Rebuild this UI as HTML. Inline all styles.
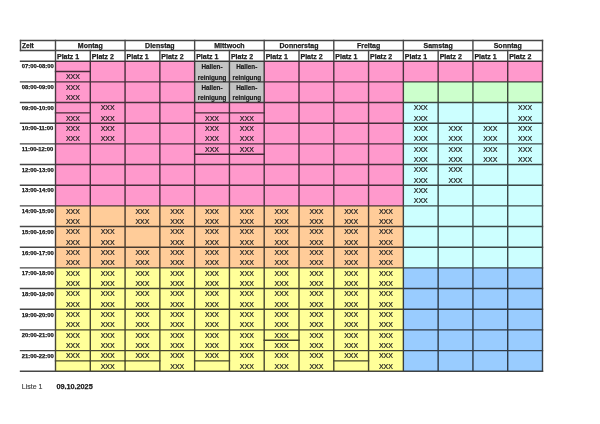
<!DOCTYPE html>
<html><head><meta charset="utf-8"><style>
html,body{margin:0;padding:0;background:#fff;width:600px;height:424px;overflow:hidden}
svg{display:block;position:absolute;left:0;top:0;will-change:transform}
text{font-family:"Liberation Sans",sans-serif;fill:#1a1a1a}
.b7{font-size:7px;font-weight:bold;stroke:#1a1a1a;stroke-width:0.25px}
.b6{font-size:5.85px;font-weight:bold;stroke:#1a1a1a;stroke-width:0.25px}
.b63{font-size:6.3px;font-weight:bold;stroke:#1a1a1a;stroke-width:0.18px}
.r7{font-size:7px;fill:#222;stroke:#222;stroke-width:0.22px}
.ft{font-size:7.4px;fill:#444;stroke:#444;stroke-width:0.2px}
.fb{font-size:7.25px;font-weight:bold;stroke:#1a1a1a;stroke-width:0.25px}
</style></head><body>
<svg width="600" height="424" viewBox="0 0 600 424">
<g><rect x="55.50" y="61.20" width="34.79" height="20.67" fill="#ff99cc"/><rect x="55.50" y="81.87" width="34.79" height="20.67" fill="#ff99cc"/><rect x="55.50" y="102.54" width="34.79" height="20.67" fill="#ff99cc"/><rect x="55.50" y="123.21" width="34.79" height="20.67" fill="#ff99cc"/><rect x="55.50" y="143.88" width="34.79" height="20.67" fill="#ff99cc"/><rect x="55.50" y="164.55" width="34.79" height="20.67" fill="#ff99cc"/><rect x="55.50" y="185.22" width="34.79" height="20.67" fill="#ff99cc"/><rect x="55.50" y="205.89" width="34.79" height="20.67" fill="#ffcc99"/><rect x="55.50" y="226.56" width="34.79" height="20.67" fill="#ffcc99"/><rect x="55.50" y="247.23" width="34.79" height="20.67" fill="#ffcc99"/><rect x="55.50" y="267.90" width="34.79" height="20.67" fill="#ffff99"/><rect x="55.50" y="288.57" width="34.79" height="20.67" fill="#ffff99"/><rect x="55.50" y="309.24" width="34.79" height="20.67" fill="#ffff99"/><rect x="55.50" y="329.91" width="34.79" height="20.67" fill="#ffff99"/><rect x="55.50" y="350.58" width="34.79" height="20.67" fill="#ffff99"/><rect x="90.29" y="61.20" width="34.79" height="20.67" fill="#ff99cc"/><rect x="90.29" y="81.87" width="34.79" height="20.67" fill="#ff99cc"/><rect x="90.29" y="102.54" width="34.79" height="20.67" fill="#ff99cc"/><rect x="90.29" y="123.21" width="34.79" height="20.67" fill="#ff99cc"/><rect x="90.29" y="143.88" width="34.79" height="20.67" fill="#ff99cc"/><rect x="90.29" y="164.55" width="34.79" height="20.67" fill="#ff99cc"/><rect x="90.29" y="185.22" width="34.79" height="20.67" fill="#ff99cc"/><rect x="90.29" y="205.89" width="34.79" height="20.67" fill="#ffcc99"/><rect x="90.29" y="226.56" width="34.79" height="20.67" fill="#ffcc99"/><rect x="90.29" y="247.23" width="34.79" height="20.67" fill="#ffcc99"/><rect x="90.29" y="267.90" width="34.79" height="20.67" fill="#ffff99"/><rect x="90.29" y="288.57" width="34.79" height="20.67" fill="#ffff99"/><rect x="90.29" y="309.24" width="34.79" height="20.67" fill="#ffff99"/><rect x="90.29" y="329.91" width="34.79" height="20.67" fill="#ffff99"/><rect x="90.29" y="350.58" width="34.79" height="20.67" fill="#ffff99"/><rect x="125.07" y="61.20" width="34.79" height="20.67" fill="#ff99cc"/><rect x="125.07" y="81.87" width="34.79" height="20.67" fill="#ff99cc"/><rect x="125.07" y="102.54" width="34.79" height="20.67" fill="#ff99cc"/><rect x="125.07" y="123.21" width="34.79" height="20.67" fill="#ff99cc"/><rect x="125.07" y="143.88" width="34.79" height="20.67" fill="#ff99cc"/><rect x="125.07" y="164.55" width="34.79" height="20.67" fill="#ff99cc"/><rect x="125.07" y="185.22" width="34.79" height="20.67" fill="#ff99cc"/><rect x="125.07" y="205.89" width="34.79" height="20.67" fill="#ffcc99"/><rect x="125.07" y="226.56" width="34.79" height="20.67" fill="#ffcc99"/><rect x="125.07" y="247.23" width="34.79" height="20.67" fill="#ffcc99"/><rect x="125.07" y="267.90" width="34.79" height="20.67" fill="#ffff99"/><rect x="125.07" y="288.57" width="34.79" height="20.67" fill="#ffff99"/><rect x="125.07" y="309.24" width="34.79" height="20.67" fill="#ffff99"/><rect x="125.07" y="329.91" width="34.79" height="20.67" fill="#ffff99"/><rect x="125.07" y="350.58" width="34.79" height="20.67" fill="#ffff99"/><rect x="159.86" y="61.20" width="34.79" height="20.67" fill="#ff99cc"/><rect x="159.86" y="81.87" width="34.79" height="20.67" fill="#ff99cc"/><rect x="159.86" y="102.54" width="34.79" height="20.67" fill="#ff99cc"/><rect x="159.86" y="123.21" width="34.79" height="20.67" fill="#ff99cc"/><rect x="159.86" y="143.88" width="34.79" height="20.67" fill="#ff99cc"/><rect x="159.86" y="164.55" width="34.79" height="20.67" fill="#ff99cc"/><rect x="159.86" y="185.22" width="34.79" height="20.67" fill="#ff99cc"/><rect x="159.86" y="205.89" width="34.79" height="20.67" fill="#ffcc99"/><rect x="159.86" y="226.56" width="34.79" height="20.67" fill="#ffcc99"/><rect x="159.86" y="247.23" width="34.79" height="20.67" fill="#ffcc99"/><rect x="159.86" y="267.90" width="34.79" height="20.67" fill="#ffff99"/><rect x="159.86" y="288.57" width="34.79" height="20.67" fill="#ffff99"/><rect x="159.86" y="309.24" width="34.79" height="20.67" fill="#ffff99"/><rect x="159.86" y="329.91" width="34.79" height="20.67" fill="#ffff99"/><rect x="159.86" y="350.58" width="34.79" height="20.67" fill="#ffff99"/><rect x="194.64" y="61.20" width="34.79" height="20.67" fill="#c4c4c4"/><rect x="194.64" y="81.87" width="34.79" height="20.67" fill="#c4c4c4"/><rect x="194.64" y="102.54" width="34.79" height="20.67" fill="#ff99cc"/><rect x="194.64" y="123.21" width="34.79" height="20.67" fill="#ff99cc"/><rect x="194.64" y="143.88" width="34.79" height="20.67" fill="#ff99cc"/><rect x="194.64" y="164.55" width="34.79" height="20.67" fill="#ff99cc"/><rect x="194.64" y="185.22" width="34.79" height="20.67" fill="#ff99cc"/><rect x="194.64" y="205.89" width="34.79" height="20.67" fill="#ffcc99"/><rect x="194.64" y="226.56" width="34.79" height="20.67" fill="#ffcc99"/><rect x="194.64" y="247.23" width="34.79" height="20.67" fill="#ffcc99"/><rect x="194.64" y="267.90" width="34.79" height="20.67" fill="#ffff99"/><rect x="194.64" y="288.57" width="34.79" height="20.67" fill="#ffff99"/><rect x="194.64" y="309.24" width="34.79" height="20.67" fill="#ffff99"/><rect x="194.64" y="329.91" width="34.79" height="20.67" fill="#ffff99"/><rect x="194.64" y="350.58" width="34.79" height="20.67" fill="#ffff99"/><rect x="229.43" y="61.20" width="34.79" height="20.67" fill="#c4c4c4"/><rect x="229.43" y="81.87" width="34.79" height="20.67" fill="#c4c4c4"/><rect x="229.43" y="102.54" width="34.79" height="20.67" fill="#ff99cc"/><rect x="229.43" y="123.21" width="34.79" height="20.67" fill="#ff99cc"/><rect x="229.43" y="143.88" width="34.79" height="20.67" fill="#ff99cc"/><rect x="229.43" y="164.55" width="34.79" height="20.67" fill="#ff99cc"/><rect x="229.43" y="185.22" width="34.79" height="20.67" fill="#ff99cc"/><rect x="229.43" y="205.89" width="34.79" height="20.67" fill="#ffcc99"/><rect x="229.43" y="226.56" width="34.79" height="20.67" fill="#ffcc99"/><rect x="229.43" y="247.23" width="34.79" height="20.67" fill="#ffcc99"/><rect x="229.43" y="267.90" width="34.79" height="20.67" fill="#ffff99"/><rect x="229.43" y="288.57" width="34.79" height="20.67" fill="#ffff99"/><rect x="229.43" y="309.24" width="34.79" height="20.67" fill="#ffff99"/><rect x="229.43" y="329.91" width="34.79" height="20.67" fill="#ffff99"/><rect x="229.43" y="350.58" width="34.79" height="20.67" fill="#ffff99"/><rect x="264.21" y="61.20" width="34.79" height="20.67" fill="#ff99cc"/><rect x="264.21" y="81.87" width="34.79" height="20.67" fill="#ff99cc"/><rect x="264.21" y="102.54" width="34.79" height="20.67" fill="#ff99cc"/><rect x="264.21" y="123.21" width="34.79" height="20.67" fill="#ff99cc"/><rect x="264.21" y="143.88" width="34.79" height="20.67" fill="#ff99cc"/><rect x="264.21" y="164.55" width="34.79" height="20.67" fill="#ff99cc"/><rect x="264.21" y="185.22" width="34.79" height="20.67" fill="#ff99cc"/><rect x="264.21" y="205.89" width="34.79" height="20.67" fill="#ffcc99"/><rect x="264.21" y="226.56" width="34.79" height="20.67" fill="#ffcc99"/><rect x="264.21" y="247.23" width="34.79" height="20.67" fill="#ffcc99"/><rect x="264.21" y="267.90" width="34.79" height="20.67" fill="#ffff99"/><rect x="264.21" y="288.57" width="34.79" height="20.67" fill="#ffff99"/><rect x="264.21" y="309.24" width="34.79" height="20.67" fill="#ffff99"/><rect x="264.21" y="329.91" width="34.79" height="20.67" fill="#ffff99"/><rect x="264.21" y="350.58" width="34.79" height="20.67" fill="#ffff99"/><rect x="299.00" y="61.20" width="34.79" height="20.67" fill="#ff99cc"/><rect x="299.00" y="81.87" width="34.79" height="20.67" fill="#ff99cc"/><rect x="299.00" y="102.54" width="34.79" height="20.67" fill="#ff99cc"/><rect x="299.00" y="123.21" width="34.79" height="20.67" fill="#ff99cc"/><rect x="299.00" y="143.88" width="34.79" height="20.67" fill="#ff99cc"/><rect x="299.00" y="164.55" width="34.79" height="20.67" fill="#ff99cc"/><rect x="299.00" y="185.22" width="34.79" height="20.67" fill="#ff99cc"/><rect x="299.00" y="205.89" width="34.79" height="20.67" fill="#ffcc99"/><rect x="299.00" y="226.56" width="34.79" height="20.67" fill="#ffcc99"/><rect x="299.00" y="247.23" width="34.79" height="20.67" fill="#ffcc99"/><rect x="299.00" y="267.90" width="34.79" height="20.67" fill="#ffff99"/><rect x="299.00" y="288.57" width="34.79" height="20.67" fill="#ffff99"/><rect x="299.00" y="309.24" width="34.79" height="20.67" fill="#ffff99"/><rect x="299.00" y="329.91" width="34.79" height="20.67" fill="#ffff99"/><rect x="299.00" y="350.58" width="34.79" height="20.67" fill="#ffff99"/><rect x="333.79" y="61.20" width="34.79" height="20.67" fill="#ff99cc"/><rect x="333.79" y="81.87" width="34.79" height="20.67" fill="#ff99cc"/><rect x="333.79" y="102.54" width="34.79" height="20.67" fill="#ff99cc"/><rect x="333.79" y="123.21" width="34.79" height="20.67" fill="#ff99cc"/><rect x="333.79" y="143.88" width="34.79" height="20.67" fill="#ff99cc"/><rect x="333.79" y="164.55" width="34.79" height="20.67" fill="#ff99cc"/><rect x="333.79" y="185.22" width="34.79" height="20.67" fill="#ff99cc"/><rect x="333.79" y="205.89" width="34.79" height="20.67" fill="#ffcc99"/><rect x="333.79" y="226.56" width="34.79" height="20.67" fill="#ffcc99"/><rect x="333.79" y="247.23" width="34.79" height="20.67" fill="#ffcc99"/><rect x="333.79" y="267.90" width="34.79" height="20.67" fill="#ffff99"/><rect x="333.79" y="288.57" width="34.79" height="20.67" fill="#ffff99"/><rect x="333.79" y="309.24" width="34.79" height="20.67" fill="#ffff99"/><rect x="333.79" y="329.91" width="34.79" height="20.67" fill="#ffff99"/><rect x="333.79" y="350.58" width="34.79" height="20.67" fill="#ffff99"/><rect x="368.57" y="61.20" width="34.79" height="20.67" fill="#ff99cc"/><rect x="368.57" y="81.87" width="34.79" height="20.67" fill="#ff99cc"/><rect x="368.57" y="102.54" width="34.79" height="20.67" fill="#ff99cc"/><rect x="368.57" y="123.21" width="34.79" height="20.67" fill="#ff99cc"/><rect x="368.57" y="143.88" width="34.79" height="20.67" fill="#ff99cc"/><rect x="368.57" y="164.55" width="34.79" height="20.67" fill="#ff99cc"/><rect x="368.57" y="185.22" width="34.79" height="20.67" fill="#ff99cc"/><rect x="368.57" y="205.89" width="34.79" height="20.67" fill="#ffcc99"/><rect x="368.57" y="226.56" width="34.79" height="20.67" fill="#ffcc99"/><rect x="368.57" y="247.23" width="34.79" height="20.67" fill="#ffcc99"/><rect x="368.57" y="267.90" width="34.79" height="20.67" fill="#ffff99"/><rect x="368.57" y="288.57" width="34.79" height="20.67" fill="#ffff99"/><rect x="368.57" y="309.24" width="34.79" height="20.67" fill="#ffff99"/><rect x="368.57" y="329.91" width="34.79" height="20.67" fill="#ffff99"/><rect x="368.57" y="350.58" width="34.79" height="20.67" fill="#ffff99"/><rect x="403.36" y="61.20" width="34.79" height="20.67" fill="#ff99cc"/><rect x="403.36" y="81.87" width="34.79" height="20.67" fill="#ccffcc"/><rect x="403.36" y="102.54" width="34.79" height="20.67" fill="#ccffff"/><rect x="403.36" y="123.21" width="34.79" height="20.67" fill="#ccffff"/><rect x="403.36" y="143.88" width="34.79" height="20.67" fill="#ccffff"/><rect x="403.36" y="164.55" width="34.79" height="20.67" fill="#ccffff"/><rect x="403.36" y="185.22" width="34.79" height="20.67" fill="#ccffff"/><rect x="403.36" y="205.89" width="34.79" height="20.67" fill="#ccffff"/><rect x="403.36" y="226.56" width="34.79" height="20.67" fill="#ccffff"/><rect x="403.36" y="247.23" width="34.79" height="20.67" fill="#ccffff"/><rect x="403.36" y="267.90" width="34.79" height="20.67" fill="#99ccff"/><rect x="403.36" y="288.57" width="34.79" height="20.67" fill="#99ccff"/><rect x="403.36" y="309.24" width="34.79" height="20.67" fill="#99ccff"/><rect x="403.36" y="329.91" width="34.79" height="20.67" fill="#99ccff"/><rect x="403.36" y="350.58" width="34.79" height="20.67" fill="#99ccff"/><rect x="438.14" y="61.20" width="34.79" height="20.67" fill="#ff99cc"/><rect x="438.14" y="81.87" width="34.79" height="20.67" fill="#ccffcc"/><rect x="438.14" y="102.54" width="34.79" height="20.67" fill="#ccffff"/><rect x="438.14" y="123.21" width="34.79" height="20.67" fill="#ccffff"/><rect x="438.14" y="143.88" width="34.79" height="20.67" fill="#ccffff"/><rect x="438.14" y="164.55" width="34.79" height="20.67" fill="#ccffff"/><rect x="438.14" y="185.22" width="34.79" height="20.67" fill="#ccffff"/><rect x="438.14" y="205.89" width="34.79" height="20.67" fill="#ccffff"/><rect x="438.14" y="226.56" width="34.79" height="20.67" fill="#ccffff"/><rect x="438.14" y="247.23" width="34.79" height="20.67" fill="#ccffff"/><rect x="438.14" y="267.90" width="34.79" height="20.67" fill="#99ccff"/><rect x="438.14" y="288.57" width="34.79" height="20.67" fill="#99ccff"/><rect x="438.14" y="309.24" width="34.79" height="20.67" fill="#99ccff"/><rect x="438.14" y="329.91" width="34.79" height="20.67" fill="#99ccff"/><rect x="438.14" y="350.58" width="34.79" height="20.67" fill="#99ccff"/><rect x="472.93" y="61.20" width="34.79" height="20.67" fill="#ff99cc"/><rect x="472.93" y="81.87" width="34.79" height="20.67" fill="#ccffcc"/><rect x="472.93" y="102.54" width="34.79" height="20.67" fill="#ccffff"/><rect x="472.93" y="123.21" width="34.79" height="20.67" fill="#ccffff"/><rect x="472.93" y="143.88" width="34.79" height="20.67" fill="#ccffff"/><rect x="472.93" y="164.55" width="34.79" height="20.67" fill="#ccffff"/><rect x="472.93" y="185.22" width="34.79" height="20.67" fill="#ccffff"/><rect x="472.93" y="205.89" width="34.79" height="20.67" fill="#ccffff"/><rect x="472.93" y="226.56" width="34.79" height="20.67" fill="#ccffff"/><rect x="472.93" y="247.23" width="34.79" height="20.67" fill="#ccffff"/><rect x="472.93" y="267.90" width="34.79" height="20.67" fill="#99ccff"/><rect x="472.93" y="288.57" width="34.79" height="20.67" fill="#99ccff"/><rect x="472.93" y="309.24" width="34.79" height="20.67" fill="#99ccff"/><rect x="472.93" y="329.91" width="34.79" height="20.67" fill="#99ccff"/><rect x="472.93" y="350.58" width="34.79" height="20.67" fill="#99ccff"/><rect x="507.71" y="61.20" width="34.79" height="20.67" fill="#ff99cc"/><rect x="507.71" y="81.87" width="34.79" height="20.67" fill="#ccffcc"/><rect x="507.71" y="102.54" width="34.79" height="20.67" fill="#ccffff"/><rect x="507.71" y="123.21" width="34.79" height="20.67" fill="#ccffff"/><rect x="507.71" y="143.88" width="34.79" height="20.67" fill="#ccffff"/><rect x="507.71" y="164.55" width="34.79" height="20.67" fill="#ccffff"/><rect x="507.71" y="185.22" width="34.79" height="20.67" fill="#ccffff"/><rect x="507.71" y="205.89" width="34.79" height="20.67" fill="#ccffff"/><rect x="507.71" y="226.56" width="34.79" height="20.67" fill="#ccffff"/><rect x="507.71" y="247.23" width="34.79" height="20.67" fill="#ccffff"/><rect x="507.71" y="267.90" width="34.79" height="20.67" fill="#99ccff"/><rect x="507.71" y="288.57" width="34.79" height="20.67" fill="#99ccff"/><rect x="507.71" y="309.24" width="34.79" height="20.67" fill="#99ccff"/><rect x="507.71" y="329.91" width="34.79" height="20.67" fill="#99ccff"/><rect x="507.71" y="350.58" width="34.79" height="20.67" fill="#99ccff"/></g>
<g stroke="#000" opacity="0.72" stroke-linecap="square"><line x1="20.50" y1="40.50" x2="542.50" y2="40.50" stroke-width="1.4"/><line x1="20.50" y1="50.50" x2="542.50" y2="50.50" stroke-width="1.4"/><line x1="20.50" y1="40.50" x2="20.50" y2="50.50" stroke-width="1.4"/><line x1="55.50" y1="40.50" x2="55.50" y2="371.25" stroke-width="1.4"/><line x1="90.29" y1="50.50" x2="90.29" y2="371.25" stroke-width="1.4"/><line x1="125.07" y1="40.50" x2="125.07" y2="371.25" stroke-width="1.4"/><line x1="159.86" y1="50.50" x2="159.86" y2="371.25" stroke-width="1.4"/><line x1="194.64" y1="40.50" x2="194.64" y2="371.25" stroke-width="1.4"/><line x1="229.43" y1="50.50" x2="229.43" y2="371.25" stroke-width="1.4"/><line x1="264.21" y1="40.50" x2="264.21" y2="371.25" stroke-width="1.4"/><line x1="299.00" y1="50.50" x2="299.00" y2="371.25" stroke-width="1.4"/><line x1="333.79" y1="40.50" x2="333.79" y2="371.25" stroke-width="1.4"/><line x1="368.57" y1="50.50" x2="368.57" y2="371.25" stroke-width="1.4"/><line x1="403.36" y1="40.50" x2="403.36" y2="371.25" stroke-width="1.4"/><line x1="438.14" y1="50.50" x2="438.14" y2="371.25" stroke-width="1.4"/><line x1="472.93" y1="40.50" x2="472.93" y2="371.25" stroke-width="1.4"/><line x1="507.71" y1="50.50" x2="507.71" y2="371.25" stroke-width="1.4"/><line x1="542.50" y1="40.50" x2="542.50" y2="371.25" stroke-width="1.4"/><line x1="20.50" y1="61.20" x2="542.50" y2="61.20" stroke-width="1.4"/><line x1="20.50" y1="81.87" x2="542.50" y2="81.87" stroke-width="1.4"/><line x1="20.50" y1="102.54" x2="542.50" y2="102.54" stroke-width="1.4"/><line x1="20.50" y1="123.21" x2="542.50" y2="123.21" stroke-width="1.4"/><line x1="20.50" y1="143.88" x2="542.50" y2="143.88" stroke-width="1.4"/><line x1="20.50" y1="164.55" x2="542.50" y2="164.55" stroke-width="1.4"/><line x1="20.50" y1="185.22" x2="542.50" y2="185.22" stroke-width="1.4"/><line x1="20.50" y1="205.89" x2="542.50" y2="205.89" stroke-width="1.4"/><line x1="20.50" y1="226.56" x2="542.50" y2="226.56" stroke-width="1.4"/><line x1="20.50" y1="247.23" x2="542.50" y2="247.23" stroke-width="1.4"/><line x1="20.50" y1="267.90" x2="542.50" y2="267.90" stroke-width="1.4"/><line x1="20.50" y1="288.57" x2="542.50" y2="288.57" stroke-width="1.4"/><line x1="20.50" y1="309.24" x2="542.50" y2="309.24" stroke-width="1.4"/><line x1="20.50" y1="329.91" x2="542.50" y2="329.91" stroke-width="1.4"/><line x1="20.50" y1="350.58" x2="542.50" y2="350.58" stroke-width="1.4"/><line x1="20.50" y1="371.25" x2="542.50" y2="371.25" stroke-width="1.4"/><line x1="55.50" y1="71.53" x2="90.29" y2="71.53" stroke-width="1.4"/><line x1="55.50" y1="112.88" x2="90.29" y2="112.88" stroke-width="1.4"/><line x1="55.50" y1="360.91" x2="90.29" y2="360.91" stroke-width="1.4"/><line x1="90.29" y1="360.91" x2="125.07" y2="360.91" stroke-width="1.4"/><line x1="125.07" y1="360.91" x2="159.86" y2="360.91" stroke-width="1.4"/><line x1="194.64" y1="112.88" x2="229.43" y2="112.88" stroke-width="1.4"/><line x1="194.64" y1="154.22" x2="229.43" y2="154.22" stroke-width="1.4"/><line x1="194.64" y1="360.91" x2="229.43" y2="360.91" stroke-width="1.4"/><line x1="229.43" y1="112.88" x2="264.21" y2="112.88" stroke-width="1.4"/><line x1="229.43" y1="154.22" x2="264.21" y2="154.22" stroke-width="1.4"/><line x1="264.21" y1="340.25" x2="299.00" y2="340.25" stroke-width="1.4"/><line x1="333.79" y1="360.91" x2="368.57" y2="360.91" stroke-width="1.4"/></g>
<g><text x="22.00" y="47.90" class="b7" text-anchor="start" style="font-size:6.6px">Zeit</text><text x="90.29" y="47.90" class="b7" text-anchor="middle">Montag</text><text x="57.00" y="58.80" class="b7" text-anchor="start">Platz 1</text><text x="91.79" y="58.80" class="b7" text-anchor="start">Platz 2</text><text x="159.86" y="47.90" class="b7" text-anchor="middle">Dienstag</text><text x="126.57" y="58.80" class="b7" text-anchor="start">Platz 1</text><text x="161.36" y="58.80" class="b7" text-anchor="start">Platz 2</text><text x="229.43" y="47.90" class="b7" text-anchor="middle">Mittwoch</text><text x="196.14" y="58.80" class="b7" text-anchor="start">Platz 1</text><text x="230.93" y="58.80" class="b7" text-anchor="start">Platz 2</text><text x="299.00" y="47.90" class="b7" text-anchor="middle">Donnerstag</text><text x="265.71" y="58.80" class="b7" text-anchor="start">Platz 1</text><text x="300.50" y="58.80" class="b7" text-anchor="start">Platz 2</text><text x="368.57" y="47.90" class="b7" text-anchor="middle">Freitag</text><text x="335.29" y="58.80" class="b7" text-anchor="start">Platz 1</text><text x="370.07" y="58.80" class="b7" text-anchor="start">Platz 2</text><text x="438.14" y="47.90" class="b7" text-anchor="middle">Samstag</text><text x="404.86" y="58.80" class="b7" text-anchor="start">Platz 1</text><text x="439.64" y="58.80" class="b7" text-anchor="start">Platz 2</text><text x="507.71" y="47.90" class="b7" text-anchor="middle">Sonntag</text><text x="474.43" y="58.80" class="b7" text-anchor="start">Platz 1</text><text x="509.21" y="58.80" class="b7" text-anchor="start">Platz 2</text><text x="21.80" y="68.47" class="b6" text-anchor="start">07:00-08:00</text><text x="21.80" y="89.14" class="b6" text-anchor="start">08:00-09:00</text><text x="21.80" y="109.81" class="b6" text-anchor="start">09:00-10:00</text><text x="21.80" y="130.48" class="b6" text-anchor="start">10:00-11:00</text><text x="21.80" y="151.15" class="b6" text-anchor="start">11:00-12:00</text><text x="21.80" y="171.82" class="b6" text-anchor="start">12:00-13:00</text><text x="21.80" y="192.49" class="b6" text-anchor="start">13:00-14:00</text><text x="21.80" y="213.16" class="b6" text-anchor="start">14:00-15:00</text><text x="21.80" y="233.83" class="b6" text-anchor="start">15:00-16:00</text><text x="21.80" y="254.50" class="b6" text-anchor="start">16:00-17:00</text><text x="21.80" y="275.17" class="b6" text-anchor="start">17:00-18:00</text><text x="21.80" y="295.84" class="b6" text-anchor="start">18:00-19:00</text><text x="21.80" y="316.51" class="b6" text-anchor="start">19:00-20:00</text><text x="21.80" y="337.18" class="b6" text-anchor="start">20:00-21:00</text><text x="21.80" y="357.85" class="b6" text-anchor="start">21:00-22:00</text><text x="72.89" y="79.20" class="r7" text-anchor="middle">XXX</text><text x="72.89" y="89.54" class="r7" text-anchor="middle">XXX</text><text x="72.89" y="99.87" class="r7" text-anchor="middle">XXX</text><text x="72.89" y="120.54" class="r7" text-anchor="middle">XXX</text><text x="72.89" y="130.88" class="r7" text-anchor="middle">XXX</text><text x="72.89" y="141.21" class="r7" text-anchor="middle">XXX</text><text x="72.89" y="213.56" class="r7" text-anchor="middle">XXX</text><text x="72.89" y="223.89" class="r7" text-anchor="middle">XXX</text><text x="72.89" y="234.23" class="r7" text-anchor="middle">XXX</text><text x="72.89" y="244.56" class="r7" text-anchor="middle">XXX</text><text x="72.89" y="254.90" class="r7" text-anchor="middle">XXX</text><text x="72.89" y="265.23" class="r7" text-anchor="middle">XXX</text><text x="72.89" y="275.57" class="r7" text-anchor="middle">XXX</text><text x="72.89" y="285.90" class="r7" text-anchor="middle">XXX</text><text x="72.89" y="296.24" class="r7" text-anchor="middle">XXX</text><text x="72.89" y="306.57" class="r7" text-anchor="middle">XXX</text><text x="72.89" y="316.91" class="r7" text-anchor="middle">XXX</text><text x="72.89" y="327.24" class="r7" text-anchor="middle">XXX</text><text x="72.89" y="337.58" class="r7" text-anchor="middle">XXX</text><text x="72.89" y="347.91" class="r7" text-anchor="middle">XXX</text><text x="72.89" y="358.25" class="r7" text-anchor="middle">XXX</text><text x="107.68" y="110.21" class="r7" text-anchor="middle">XXX</text><text x="107.68" y="120.54" class="r7" text-anchor="middle">XXX</text><text x="107.68" y="130.88" class="r7" text-anchor="middle">XXX</text><text x="107.68" y="141.21" class="r7" text-anchor="middle">XXX</text><text x="107.68" y="234.23" class="r7" text-anchor="middle">XXX</text><text x="107.68" y="244.56" class="r7" text-anchor="middle">XXX</text><text x="107.68" y="254.90" class="r7" text-anchor="middle">XXX</text><text x="107.68" y="265.23" class="r7" text-anchor="middle">XXX</text><text x="107.68" y="275.57" class="r7" text-anchor="middle">XXX</text><text x="107.68" y="285.90" class="r7" text-anchor="middle">XXX</text><text x="107.68" y="296.24" class="r7" text-anchor="middle">XXX</text><text x="107.68" y="306.57" class="r7" text-anchor="middle">XXX</text><text x="107.68" y="316.91" class="r7" text-anchor="middle">XXX</text><text x="107.68" y="327.24" class="r7" text-anchor="middle">XXX</text><text x="107.68" y="337.58" class="r7" text-anchor="middle">XXX</text><text x="107.68" y="347.91" class="r7" text-anchor="middle">XXX</text><text x="107.68" y="358.25" class="r7" text-anchor="middle">XXX</text><text x="107.68" y="368.58" class="r7" text-anchor="middle">XXX</text><text x="142.46" y="213.56" class="r7" text-anchor="middle">XXX</text><text x="142.46" y="223.89" class="r7" text-anchor="middle">XXX</text><text x="142.46" y="254.90" class="r7" text-anchor="middle">XXX</text><text x="142.46" y="265.23" class="r7" text-anchor="middle">XXX</text><text x="142.46" y="275.57" class="r7" text-anchor="middle">XXX</text><text x="142.46" y="285.90" class="r7" text-anchor="middle">XXX</text><text x="142.46" y="296.24" class="r7" text-anchor="middle">XXX</text><text x="142.46" y="306.57" class="r7" text-anchor="middle">XXX</text><text x="142.46" y="316.91" class="r7" text-anchor="middle">XXX</text><text x="142.46" y="327.24" class="r7" text-anchor="middle">XXX</text><text x="142.46" y="337.58" class="r7" text-anchor="middle">XXX</text><text x="142.46" y="347.91" class="r7" text-anchor="middle">XXX</text><text x="142.46" y="358.25" class="r7" text-anchor="middle">XXX</text><text x="177.25" y="213.56" class="r7" text-anchor="middle">XXX</text><text x="177.25" y="223.89" class="r7" text-anchor="middle">XXX</text><text x="177.25" y="234.23" class="r7" text-anchor="middle">XXX</text><text x="177.25" y="244.56" class="r7" text-anchor="middle">XXX</text><text x="177.25" y="254.90" class="r7" text-anchor="middle">XXX</text><text x="177.25" y="265.23" class="r7" text-anchor="middle">XXX</text><text x="177.25" y="275.57" class="r7" text-anchor="middle">XXX</text><text x="177.25" y="285.90" class="r7" text-anchor="middle">XXX</text><text x="177.25" y="296.24" class="r7" text-anchor="middle">XXX</text><text x="177.25" y="306.57" class="r7" text-anchor="middle">XXX</text><text x="177.25" y="316.91" class="r7" text-anchor="middle">XXX</text><text x="177.25" y="327.24" class="r7" text-anchor="middle">XXX</text><text x="177.25" y="337.58" class="r7" text-anchor="middle">XXX</text><text x="177.25" y="347.91" class="r7" text-anchor="middle">XXX</text><text x="177.25" y="358.25" class="r7" text-anchor="middle">XXX</text><text x="177.25" y="368.58" class="r7" text-anchor="middle">XXX</text><text x="212.04" y="69.37" class="b63" text-anchor="middle">Hallen-</text><text x="212.04" y="79.50" class="b63" text-anchor="middle">reinigung</text><text x="212.04" y="90.04" class="b63" text-anchor="middle">Hallen-</text><text x="212.04" y="100.17" class="b63" text-anchor="middle">reinigung</text><text x="212.04" y="120.54" class="r7" text-anchor="middle">XXX</text><text x="212.04" y="130.88" class="r7" text-anchor="middle">XXX</text><text x="212.04" y="141.21" class="r7" text-anchor="middle">XXX</text><text x="212.04" y="151.55" class="r7" text-anchor="middle">XXX</text><text x="212.04" y="213.56" class="r7" text-anchor="middle">XXX</text><text x="212.04" y="223.89" class="r7" text-anchor="middle">XXX</text><text x="212.04" y="234.23" class="r7" text-anchor="middle">XXX</text><text x="212.04" y="244.56" class="r7" text-anchor="middle">XXX</text><text x="212.04" y="254.90" class="r7" text-anchor="middle">XXX</text><text x="212.04" y="265.23" class="r7" text-anchor="middle">XXX</text><text x="212.04" y="275.57" class="r7" text-anchor="middle">XXX</text><text x="212.04" y="285.90" class="r7" text-anchor="middle">XXX</text><text x="212.04" y="296.24" class="r7" text-anchor="middle">XXX</text><text x="212.04" y="306.57" class="r7" text-anchor="middle">XXX</text><text x="212.04" y="316.91" class="r7" text-anchor="middle">XXX</text><text x="212.04" y="327.24" class="r7" text-anchor="middle">XXX</text><text x="212.04" y="337.58" class="r7" text-anchor="middle">XXX</text><text x="212.04" y="347.91" class="r7" text-anchor="middle">XXX</text><text x="212.04" y="358.25" class="r7" text-anchor="middle">XXX</text><text x="246.82" y="69.37" class="b63" text-anchor="middle">Hallen-</text><text x="246.82" y="79.50" class="b63" text-anchor="middle">reinigung</text><text x="246.82" y="90.04" class="b63" text-anchor="middle">Hallen-</text><text x="246.82" y="100.17" class="b63" text-anchor="middle">reinigung</text><text x="246.82" y="120.54" class="r7" text-anchor="middle">XXX</text><text x="246.82" y="130.88" class="r7" text-anchor="middle">XXX</text><text x="246.82" y="141.21" class="r7" text-anchor="middle">XXX</text><text x="246.82" y="151.55" class="r7" text-anchor="middle">XXX</text><text x="246.82" y="213.56" class="r7" text-anchor="middle">XXX</text><text x="246.82" y="223.89" class="r7" text-anchor="middle">XXX</text><text x="246.82" y="234.23" class="r7" text-anchor="middle">XXX</text><text x="246.82" y="244.56" class="r7" text-anchor="middle">XXX</text><text x="246.82" y="254.90" class="r7" text-anchor="middle">XXX</text><text x="246.82" y="265.23" class="r7" text-anchor="middle">XXX</text><text x="246.82" y="275.57" class="r7" text-anchor="middle">XXX</text><text x="246.82" y="285.90" class="r7" text-anchor="middle">XXX</text><text x="246.82" y="296.24" class="r7" text-anchor="middle">XXX</text><text x="246.82" y="306.57" class="r7" text-anchor="middle">XXX</text><text x="246.82" y="316.91" class="r7" text-anchor="middle">XXX</text><text x="246.82" y="327.24" class="r7" text-anchor="middle">XXX</text><text x="246.82" y="337.58" class="r7" text-anchor="middle">XXX</text><text x="246.82" y="347.91" class="r7" text-anchor="middle">XXX</text><text x="246.82" y="358.25" class="r7" text-anchor="middle">XXX</text><text x="246.82" y="368.58" class="r7" text-anchor="middle">XXX</text><text x="281.61" y="213.56" class="r7" text-anchor="middle">XXX</text><text x="281.61" y="223.89" class="r7" text-anchor="middle">XXX</text><text x="281.61" y="234.23" class="r7" text-anchor="middle">XXX</text><text x="281.61" y="244.56" class="r7" text-anchor="middle">XXX</text><text x="281.61" y="254.90" class="r7" text-anchor="middle">XXX</text><text x="281.61" y="265.23" class="r7" text-anchor="middle">XXX</text><text x="281.61" y="275.57" class="r7" text-anchor="middle">XXX</text><text x="281.61" y="285.90" class="r7" text-anchor="middle">XXX</text><text x="281.61" y="296.24" class="r7" text-anchor="middle">XXX</text><text x="281.61" y="306.57" class="r7" text-anchor="middle">XXX</text><text x="281.61" y="316.91" class="r7" text-anchor="middle">XXX</text><text x="281.61" y="327.24" class="r7" text-anchor="middle">XXX</text><text x="281.61" y="337.58" class="r7" text-anchor="middle">XXX</text><text x="281.61" y="347.91" class="r7" text-anchor="middle">XXX</text><text x="281.61" y="358.25" class="r7" text-anchor="middle">XXX</text><text x="281.61" y="368.58" class="r7" text-anchor="middle">XXX</text><text x="316.39" y="213.56" class="r7" text-anchor="middle">XXX</text><text x="316.39" y="223.89" class="r7" text-anchor="middle">XXX</text><text x="316.39" y="234.23" class="r7" text-anchor="middle">XXX</text><text x="316.39" y="244.56" class="r7" text-anchor="middle">XXX</text><text x="316.39" y="254.90" class="r7" text-anchor="middle">XXX</text><text x="316.39" y="265.23" class="r7" text-anchor="middle">XXX</text><text x="316.39" y="275.57" class="r7" text-anchor="middle">XXX</text><text x="316.39" y="285.90" class="r7" text-anchor="middle">XXX</text><text x="316.39" y="296.24" class="r7" text-anchor="middle">XXX</text><text x="316.39" y="306.57" class="r7" text-anchor="middle">XXX</text><text x="316.39" y="316.91" class="r7" text-anchor="middle">XXX</text><text x="316.39" y="327.24" class="r7" text-anchor="middle">XXX</text><text x="316.39" y="337.58" class="r7" text-anchor="middle">XXX</text><text x="316.39" y="347.91" class="r7" text-anchor="middle">XXX</text><text x="316.39" y="358.25" class="r7" text-anchor="middle">XXX</text><text x="316.39" y="368.58" class="r7" text-anchor="middle">XXX</text><text x="351.18" y="213.56" class="r7" text-anchor="middle">XXX</text><text x="351.18" y="223.89" class="r7" text-anchor="middle">XXX</text><text x="351.18" y="234.23" class="r7" text-anchor="middle">XXX</text><text x="351.18" y="244.56" class="r7" text-anchor="middle">XXX</text><text x="351.18" y="254.90" class="r7" text-anchor="middle">XXX</text><text x="351.18" y="265.23" class="r7" text-anchor="middle">XXX</text><text x="351.18" y="275.57" class="r7" text-anchor="middle">XXX</text><text x="351.18" y="285.90" class="r7" text-anchor="middle">XXX</text><text x="351.18" y="296.24" class="r7" text-anchor="middle">XXX</text><text x="351.18" y="306.57" class="r7" text-anchor="middle">XXX</text><text x="351.18" y="316.91" class="r7" text-anchor="middle">XXX</text><text x="351.18" y="327.24" class="r7" text-anchor="middle">XXX</text><text x="351.18" y="337.58" class="r7" text-anchor="middle">XXX</text><text x="351.18" y="347.91" class="r7" text-anchor="middle">XXX</text><text x="351.18" y="358.25" class="r7" text-anchor="middle">XXX</text><text x="385.96" y="213.56" class="r7" text-anchor="middle">XXX</text><text x="385.96" y="223.89" class="r7" text-anchor="middle">XXX</text><text x="385.96" y="234.23" class="r7" text-anchor="middle">XXX</text><text x="385.96" y="244.56" class="r7" text-anchor="middle">XXX</text><text x="385.96" y="254.90" class="r7" text-anchor="middle">XXX</text><text x="385.96" y="265.23" class="r7" text-anchor="middle">XXX</text><text x="385.96" y="275.57" class="r7" text-anchor="middle">XXX</text><text x="385.96" y="285.90" class="r7" text-anchor="middle">XXX</text><text x="385.96" y="296.24" class="r7" text-anchor="middle">XXX</text><text x="385.96" y="306.57" class="r7" text-anchor="middle">XXX</text><text x="385.96" y="316.91" class="r7" text-anchor="middle">XXX</text><text x="385.96" y="327.24" class="r7" text-anchor="middle">XXX</text><text x="385.96" y="337.58" class="r7" text-anchor="middle">XXX</text><text x="385.96" y="347.91" class="r7" text-anchor="middle">XXX</text><text x="385.96" y="358.25" class="r7" text-anchor="middle">XXX</text><text x="385.96" y="368.58" class="r7" text-anchor="middle">XXX</text><text x="420.75" y="110.21" class="r7" text-anchor="middle">XXX</text><text x="420.75" y="120.54" class="r7" text-anchor="middle">XXX</text><text x="420.75" y="130.88" class="r7" text-anchor="middle">XXX</text><text x="420.75" y="141.21" class="r7" text-anchor="middle">XXX</text><text x="420.75" y="151.55" class="r7" text-anchor="middle">XXX</text><text x="420.75" y="161.88" class="r7" text-anchor="middle">XXX</text><text x="420.75" y="172.22" class="r7" text-anchor="middle">XXX</text><text x="420.75" y="182.55" class="r7" text-anchor="middle">XXX</text><text x="420.75" y="192.89" class="r7" text-anchor="middle">XXX</text><text x="420.75" y="203.22" class="r7" text-anchor="middle">XXX</text><text x="455.54" y="130.88" class="r7" text-anchor="middle">XXX</text><text x="455.54" y="141.21" class="r7" text-anchor="middle">XXX</text><text x="455.54" y="151.55" class="r7" text-anchor="middle">XXX</text><text x="455.54" y="161.88" class="r7" text-anchor="middle">XXX</text><text x="455.54" y="172.22" class="r7" text-anchor="middle">XXX</text><text x="455.54" y="182.55" class="r7" text-anchor="middle">XXX</text><text x="490.32" y="130.88" class="r7" text-anchor="middle">XXX</text><text x="490.32" y="141.21" class="r7" text-anchor="middle">XXX</text><text x="490.32" y="151.55" class="r7" text-anchor="middle">XXX</text><text x="490.32" y="161.88" class="r7" text-anchor="middle">XXX</text><text x="525.11" y="110.21" class="r7" text-anchor="middle">XXX</text><text x="525.11" y="120.54" class="r7" text-anchor="middle">XXX</text><text x="525.11" y="130.88" class="r7" text-anchor="middle">XXX</text><text x="525.11" y="141.21" class="r7" text-anchor="middle">XXX</text><text x="525.11" y="151.55" class="r7" text-anchor="middle">XXX</text><text x="525.11" y="161.88" class="r7" text-anchor="middle">XXX</text><text x="21.80" y="389.40" class="ft" text-anchor="start" textLength="20.6" lengthAdjust="spacingAndGlyphs">Liste 1</text><text x="56.40" y="389.40" class="fb" text-anchor="start">09.10.2025</text></g>
</svg>
</body></html>
